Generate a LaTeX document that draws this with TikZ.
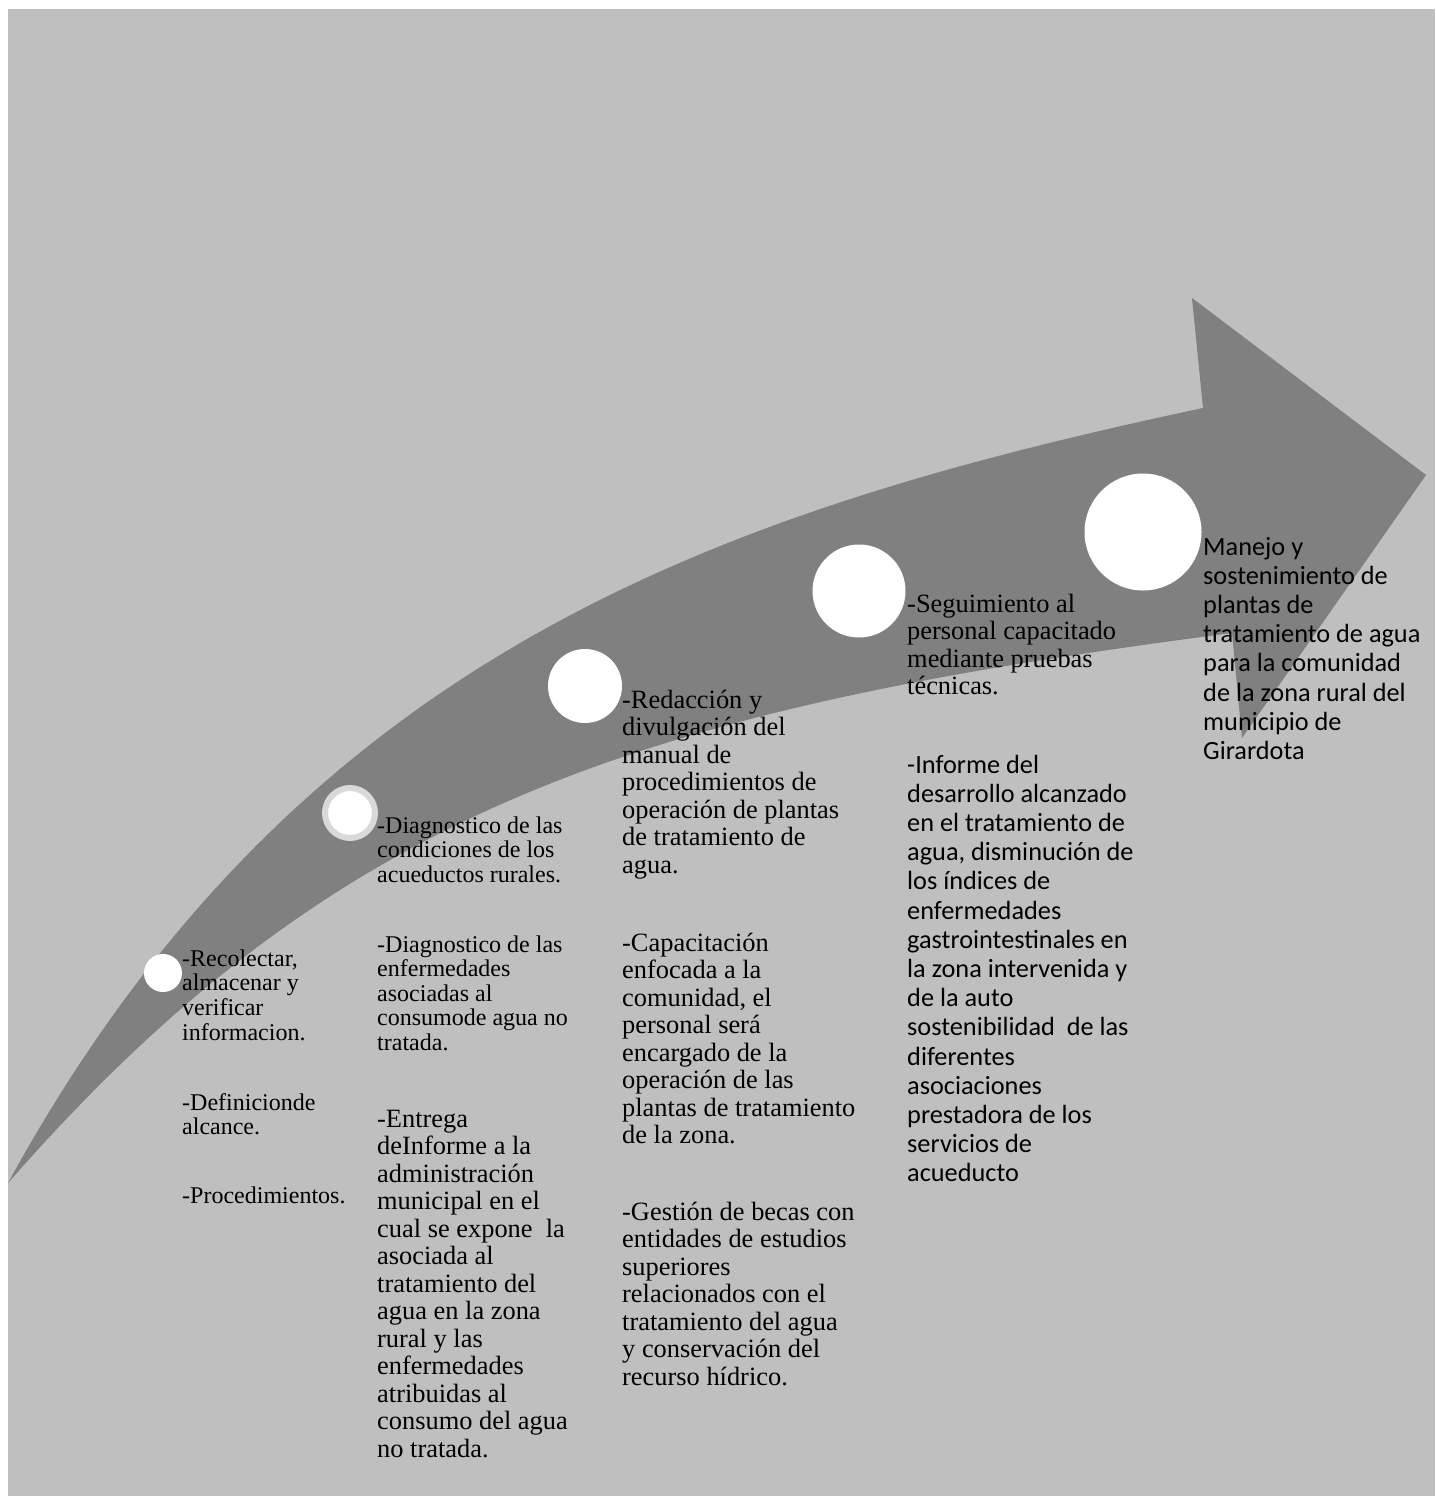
\documentclass[tikz,border=0pt]{standalone}
\usepackage{fontspec}
\setmainfont{Liberation Serif}
\newfontfamily\calibri{Carlito}
\definecolor{fondo}{HTML}{BFBFBF}
\definecolor{flecha}{HTML}{808080}
\definecolor{anillo}{HTML}{D9D9D9}
\tikzstyle{hito} = [circle, fill=white, inner sep=0pt]
\tikzstyle{texto} = [anchor=base west, align=left, inner sep=0pt]
\tikzstyle{chico} = [texto, font=\fontsize{24}{24.6}\selectfont]
\tikzstyle{grande} = [texto, font=\fontsize{26.4}{27.5}\selectfont]
\tikzstyle{sans} = [texto, font=\calibri\fontsize{26.3}{29.2}\selectfont]

\begin{document}
\begin{tikzpicture}[x=1pt, y=-1pt]
	\useasboundingbox (0,0) rectangle (1435,1496);
	\fill[fondo] (8,9) rectangle (1435,1496);
	% flecha curva
	\fill[flecha] (8,1183) .. controls (296,657) and (714,512) .. (1203,408)
		-- (1192,298) -- (1426,475) -- (1242,738) -- (1232,633)
		.. controls (637,710) and (337,807) .. (8,1183) -- cycle;
	% hitos
	\node[hito, minimum size=38pt] (h1) at (163,973) {};
	\node[hito, draw=anillo, line width=6pt, minimum size=50pt] (h2) at (350,813) {};
	\node[hito, minimum size=74pt] (h3) at (585,686) {};
	\node[hito, minimum size=93pt] (h4) at (859,591) {};
	\node[hito, minimum size=117pt] (h5) at (1143,532) {};
	% etapa 1 (base = ultima linea)
	\node[chico] (recolectar) at (182,1040) {-Recolectar,\\almacenar y\\verificar\\informacion.};
	\node[chico] (definicion) at (182,1134.6) {-Definicionde\\alcance.};
	\node[chico] (procedimientos) at (182,1203) {-Procedimientos.};
	% etapa 2
	\node[chico] (condiciones) at (377,882.2) {-Diagnostico de las\\condiciones de los\\acueductos rurales.};
	\node[chico] (enfermedades) at (377,1050.4) {-Diagnostico de las\\enfermedades\\asociadas al\\consumode agua no\\tratada.};
	\node[grande] (entrega) at (377,1457) {-Entrega\\deInforme a la\\administración\\municipal en el\\cual se expone~ la\\asociada al\\tratamiento del\\agua en la zona\\rural y las\\enfermedades\\atribuidas al\\consumo del agua\\no tratada.};
	% etapa 3
	\node[grande] (redaccion) at (622,873) {-Redacción y\\divulgación del\\manual de\\procedimientos de\\operación de plantas\\de tratamiento de\\agua.};
	\node[grande] (capacitacion) at (622,1143.5) {-Capacitación\\enfocada a la\\comunidad, el\\personal será\\encargado de la\\operación de las\\plantas de tratamiento\\de la zona.};
	\node[grande] (becas) at (622,1385) {-Gestión de becas con\\entidades de estudios\\superiores\\relacionados con el\\tratamiento del agua\\y conservación del\\recurso hídrico.};
	% etapa 4
	\node[grande] (seguimiento) at (907,694.5) {-Seguimiento al\\personal capacitado\\mediante pruebas\\técnicas.};
	\node[sans] (informe) at (907,1181.8) {-Informe del\\desarrollo alcanzado\\en el tratamiento de\\agua, disminución de\\los índices de\\enfermedades\\gastrointestinales en\\la zona intervenida y\\de la auto\\sostenibilidad~ de las\\diferentes\\asociaciones\\prestadora de los\\servicios de\\acueducto};
	% meta
	\node[sans] (manejo) at (1203,759.4) {Manejo y\\sostenimiento de\\plantas de\\tratamiento de agua\\para la comunidad\\de la zona rural del\\municipio de\\Girardota};
\end{tikzpicture}
\end{document}
